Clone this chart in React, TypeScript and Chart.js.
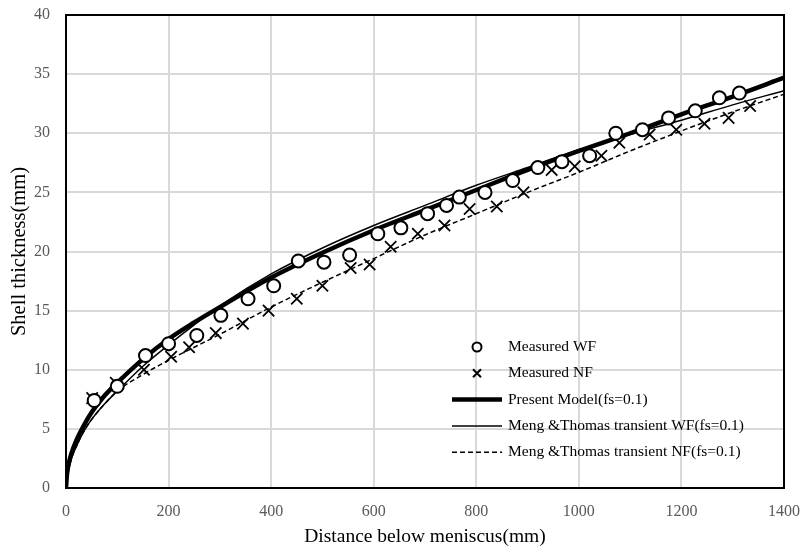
import React, { useEffect, useRef } from "react";
import { Chart, registerables } from "chart.js";

Chart.register(...registerables);

// Measured WF (circles)
const wfX = [55, 100, 155, 200, 255, 302, 355, 405, 453, 503, 553, 608, 653, 705, 742, 767, 817, 871, 920, 967, 1021, 1072, 1124, 1175, 1227, 1274, 1313];
const wfY = [7.4, 8.6, 11.2, 12.2, 12.9, 14.6, 16.0, 17.1, 19.2, 19.1, 19.7, 21.5, 22.0, 23.2, 23.9, 24.6, 25.0, 26.0, 27.1, 27.6, 28.1, 30.0, 30.3, 31.3, 31.9, 33.0, 33.4];

// Measured NF (crosses)
const nfX = [51, 97, 152, 205, 240, 292, 345, 395, 450, 500, 555, 592, 633, 686, 738, 787, 840, 892, 947, 992, 1044, 1079, 1138, 1190, 1245, 1292, 1334];
const nfY = [7.6, 8.9, 10.0, 11.1, 11.9, 13.1, 13.9, 15.0, 16.0, 17.1, 18.6, 18.9, 20.4, 21.5, 22.2, 23.6, 23.8, 25.0, 26.9, 27.2, 28.1, 29.2, 29.9, 30.3, 30.8, 31.3, 32.3];

// Model curves
const curveX = [0, 2, 5, 10, 20, 35, 50, 75, 100, 150, 200, 250, 300, 400, 500, 600, 700, 800, 900, 1000, 1100, 1200, 1300, 1400];
const presentY = [0, 1.2, 2.0, 2.85, 4.0, 5.3, 6.4, 7.8, 8.9, 10.9, 12.6, 14.0, 15.3, 17.8, 19.9, 21.8, 23.5, 25.2, 26.9, 28.5, 30.0, 31.6, 33.1, 34.7];
const mengWfY = [0, 0.8, 1.5, 2.4, 3.5, 4.8, 5.8, 7.1, 8.2, 10.3, 12.1, 13.8, 15.4, 18.1, 20.3, 22.2, 23.9, 25.6, 27.1, 28.6, 29.9, 31.1, 32.4, 33.6];
const mengNfY = [0, 0.8, 1.5, 2.4, 3.5, 4.8, 5.8, 7.1, 8.2, 9.6, 10.8, 11.9, 13.0, 15.3, 17.4, 19.4, 21.4, 23.2, 25.0, 26.7, 28.5, 30.2, 31.8, 33.3];

const labels = [
  "Measured WF",
  "Measured NF",
  "Present Model(fs=0.1)",
  "Meng &Thomas transient WF(fs=0.1)",
  "Meng &Thomas transient NF(fs=0.1)",
];

const xTicks = [0, 200, 400, 600, 800, 1000, 1200, 1400];
const yTicks = [0, 5, 10, 15, 20, 25, 30, 35, 40];

const FONT = "'Liberation Serif', 'Times New Roman', serif";

const zip = (xs: number[], ys: number[]) => xs.map((x, i) => ({ x, y: ys[i] }));

const legendPlugin = {
  id: "customLegend",
  afterDraw(chart: any) {
    const { ctx, chartArea } = chart;
    const markerX = chartArea.left + 411;
    const lineX0 = chartArea.left + 386;
    const lineX1 = chartArea.left + 436;
    const textX = chartArea.left + 442;
    const y0 = chartArea.top + 332;
    ctx.save();
    chart.data.datasets.forEach((ds: any, i: number) => {
      const y = y0 + i * 26.3;
      ctx.strokeStyle = "#000";
      ctx.fillStyle = "#fff";
      if (ds.showLine) {
        ctx.lineWidth = ds.borderWidth;
        ctx.setLineDash(ds.borderDash || []);
        ctx.beginPath();
        ctx.moveTo(lineX0, y);
        ctx.lineTo(lineX1, y);
        ctx.stroke();
        ctx.setLineDash([]);
      } else if (ds.pointStyle === "circle") {
        ctx.lineWidth = 2;
        ctx.beginPath();
        ctx.arc(markerX, y, 4.5, 0, Math.PI * 2);
        ctx.fill();
        ctx.stroke();
      } else {
        ctx.lineWidth = 2;
        const r = 4;
        ctx.beginPath();
        ctx.moveTo(markerX - r, y - r);
        ctx.lineTo(markerX + r, y + r);
        ctx.moveTo(markerX + r, y - r);
        ctx.lineTo(markerX - r, y + r);
        ctx.stroke();
      }
      ctx.fillStyle = "#000";
      ctx.font = `15.5px ${FONT}`;
      ctx.textAlign = "left";
      ctx.textBaseline = "middle";
      ctx.fillText(ds.label, textX, y);
    });
    ctx.restore();
  },
};

const borderPlugin = {
  id: "frame",
  afterDatasetsDraw(chart: any) {
    const { ctx, chartArea } = chart;
    ctx.save();
    ctx.strokeStyle = "#000";
    ctx.lineWidth = 2;
    ctx.strokeRect(chartArea.left, chartArea.top, chartArea.right - chartArea.left, chartArea.bottom - chartArea.top);
    ctx.restore();
  },
};

const zeroPad = (scale: any) => {
  scale.paddingTop = 0;
  scale.paddingBottom = 0;
  scale.paddingLeft = 0;
  scale.paddingRight = 0;
};

export default function App() {
  const ref = useRef<HTMLCanvasElement | null>(null);
  useEffect(() => {
    if (!ref.current) return;
    const chart = new Chart(ref.current, {
      type: "scatter",
      data: {
        datasets: [
          {
            label: labels[0],
            data: zip(wfX, wfY),
            pointStyle: "circle",
            pointRadius: 6.5,
            pointBorderWidth: 2,
            pointBackgroundColor: "#fff",
            pointBorderColor: "#000",
            showLine: false,
            order: 0,
          },
          {
            label: labels[1],
            data: zip(nfX, nfY),
            pointStyle: "crossRot",
            pointRadius: 8,
            pointBorderWidth: 1.8,
            pointBorderColor: "#000",
            showLine: false,
            order: 1,
          },
          {
            label: labels[2],
            data: zip(curveX, presentY),
            showLine: true,
            borderColor: "#000",
            borderWidth: 4.5,
            pointRadius: 0,
            cubicInterpolationMode: "monotone",
            order: 2,
          },
          {
            label: labels[3],
            data: zip(curveX, mengWfY),
            showLine: true,
            borderColor: "#000",
            borderWidth: 1.5,
            pointRadius: 0,
            cubicInterpolationMode: "monotone",
            order: 3,
          },
          {
            label: labels[4],
            data: zip(curveX, mengNfY),
            showLine: true,
            borderColor: "#000",
            borderWidth: 1.5,
            borderDash: [5, 3],
            pointRadius: 0,
            cubicInterpolationMode: "monotone",
            order: 4,
          },
        ],
      },
      options: {
        animation: false,
        responsive: false,
        maintainAspectRatio: false,
        layout: { padding: { top: 15, right: 21, left: 0, bottom: 0 } },
        plugins: {
          legend: { display: false },
          tooltip: { enabled: false },
        },
        scales: {
          x: {
            type: "linear",
            min: 0,
            max: 1400,
            afterBuildTicks: (scale: any) => {
              scale.ticks = xTicks.map((v) => ({ value: v }));
            },
            afterFit: (scale: any) => {
              scale.height = 61;
              zeroPad(scale);
            },
            grid: { color: "#d9d9d9", lineWidth: 2, drawTicks: false },
            border: { display: false },
            ticks: {
              padding: 14,
              color: "#595959",
              font: { family: FONT, size: 16 },
              maxRotation: 0,
              callback: (v: any) => String(v),
            },
            title: {
              display: true,
              text: "Distance below meniscus(mm)",
              color: "#000",
              font: { family: FONT, size: 19.5 },
              padding: { top: 0, bottom: 0 },
            },
          },
          y: {
            type: "linear",
            min: 0,
            max: 40,
            afterBuildTicks: (scale: any) => {
              scale.ticks = yTicks.map((v) => ({ value: v }));
            },
            afterFit: (scale: any) => {
              scale.width = 66;
              zeroPad(scale);
            },
            grid: { color: "#d9d9d9", lineWidth: 2, drawTicks: false },
            border: { display: false },
            ticks: {
              padding: 16,
              color: "#595959",
              font: { family: FONT, size: 16 },
              callback: (v: any) => String(v),
            },
            title: {
              display: true,
              text: "Shell thickness(mm)",
              color: "#000",
              font: { family: FONT, size: 20.5 },
              padding: { top: 7, bottom: 0 },
            },
          },
        },
      },
      plugins: [borderPlugin, legendPlugin],
    });
    return () => chart.destroy();
  }, []);
  return (
    <div style={{ position: "fixed", left: 0, top: 0, width: 805, height: 549, background: "#fff" }}>
      <canvas ref={ref} width={805} height={549} style={{ display: "block" }} />
    </div>
  );
}
